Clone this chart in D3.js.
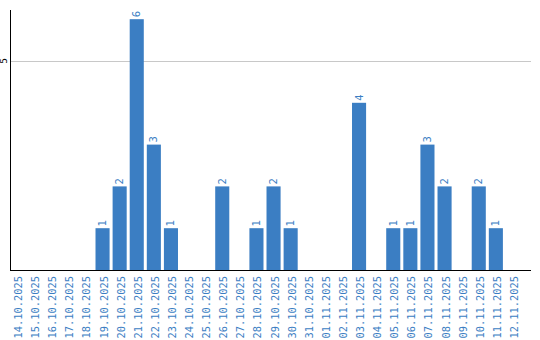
<!DOCTYPE html>
<html>
<head>
<meta charset="utf-8">
<script src="https://cdn.jsdelivr.net/npm/d3@7"></script>
<style>
  body { margin: 0; background: #fff; }
  svg { display: block; font-family: "DejaVu Sans", sans-serif; }
</style>
</head>
<body>
<svg></svg>
<script>
const dates = ["14.10.2025", "15.10.2025", "16.10.2025", "17.10.2025", "18.10.2025",
    "19.10.2025", "20.10.2025", "21.10.2025", "22.10.2025", "23.10.2025",
    "24.10.2025", "25.10.2025", "26.10.2025", "27.10.2025", "28.10.2025",
    "29.10.2025", "30.10.2025", "31.10.2025", "01.11.2025", "02.11.2025",
    "03.11.2025", "04.11.2025", "05.11.2025", "06.11.2025", "07.11.2025",
    "08.11.2025", "09.11.2025", "10.11.2025", "11.11.2025", "12.11.2025"];
const counts = [0, 0, 0, 0, 0, 1, 2, 6, 3, 1, 0, 0, 2, 0, 1, 2, 1, 0, 0, 0, 4, 0, 1, 1, 3, 2, 0, 2, 1, 0];
const yTicks = [5];

const width = 540;
const height = 340;
const plotLeft = 10, plotTop = 10, plotBottom = 270, axisEnd = 531;
const blue = "#3b7ec3";

const svg = d3.select("svg")
    .attr("width", width)
    .attr("height", height);

const x = d3.scaleBand()
    .domain(dates)
    .range([plotLeft, plotLeft + 17 * dates.length])
    .paddingInner(3 / 17)
    .paddingOuter(0)
    .align(0);

const y = d3.scaleLinear()
    .domain([0, 6.22])
    .range([plotBottom, plotTop]);

// gridlines
svg.append("g")
  .selectAll("line")
  .data(yTicks)
  .enter()
  .append("line")
    .attr("x1", plotLeft)
    .attr("x2", axisEnd)
    .attr("y1", d => Math.round(y(d)) + 0.5)
    .attr("y2", d => Math.round(y(d)) + 0.5)
    .attr("stroke", "#c8c8c8");

// y tick labels (rotated)
svg.append("g")
  .selectAll("text")
  .data(yTicks)
  .enter()
  .append("text")
    .attr("transform", d => `translate(7, ${y(d)}) rotate(-90)`)
    .attr("text-anchor", "middle")
    .attr("font-size", 9)
    .attr("fill", "#000")
    .text(d => d);

// bars
const data = dates.map((d, i) => ({date: d, count: counts[i]}));

svg.append("g")
  .selectAll("rect")
  .data(data.filter(d => d.count > 0))
  .enter()
  .append("rect")
    .attr("x", d => x(d.date))
    .attr("y", d => y(d.count))
    .attr("width", x.bandwidth())
    .attr("height", d => plotBottom - y(d.count))
    .attr("fill", blue);

// value labels
svg.append("g")
  .selectAll("text")
  .data(data.filter(d => d.count > 0))
  .enter()
  .append("text")
    .attr("transform", d => `translate(${x(d.date) + x.bandwidth() / 2 + 3.5}, ${y(d.count) - 2}) rotate(-90)`)
    .attr("text-anchor", "start")
    .attr("font-size", 10)
    .attr("fill", blue)
    .text(d => d.count);

// axes lines
svg.append("line")
    .attr("x1", plotLeft + 0.5).attr("x2", plotLeft + 0.5)
    .attr("y1", plotTop).attr("y2", plotBottom)
    .attr("stroke", "#000");
svg.append("line")
    .attr("x1", plotLeft).attr("x2", axisEnd)
    .attr("y1", plotBottom + 0.5).attr("y2", plotBottom + 0.5)
    .attr("stroke", "#000");

// x labels
svg.append("g")
  .selectAll("text")
  .data(dates)
  .enter()
  .append("text")
    .attr("transform", d => `translate(${x(d) + 8.5 + 3.5}, 276) rotate(-90)`)
    .attr("text-anchor", "end")
    .attr("font-family", "'DejaVu Sans Mono', monospace")
    .attr("font-size", 10.4)
    .attr("fill", blue)
    .text(d => d);
</script>
</body>
</html>
